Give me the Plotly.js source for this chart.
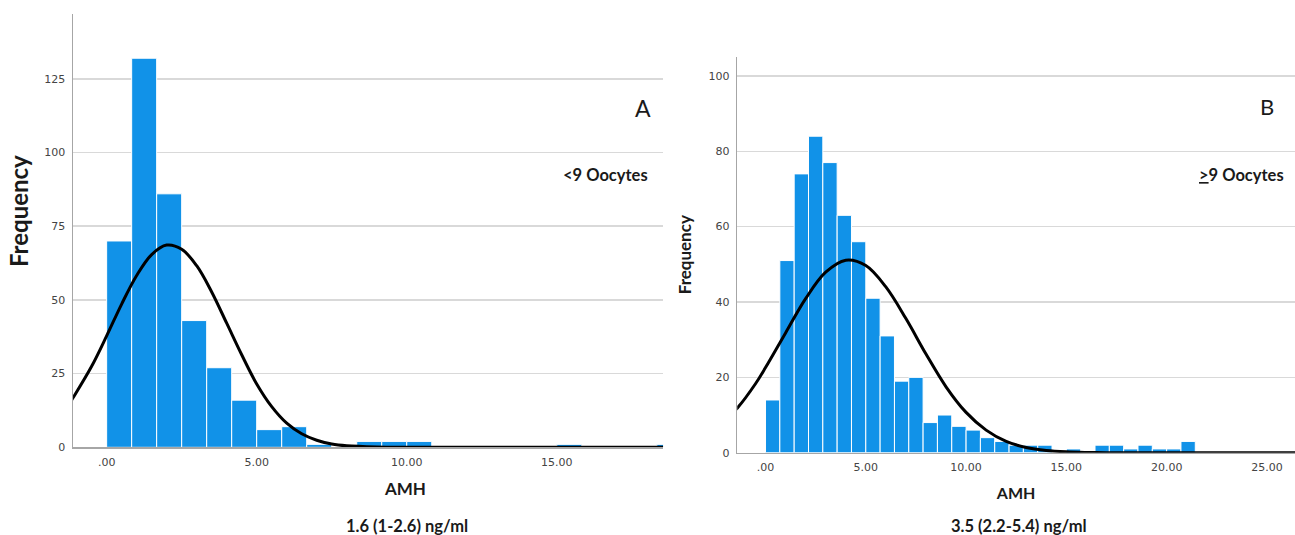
<!DOCTYPE html>
<html><head><meta charset="utf-8">
<script src="https://cdn.plot.ly/plotly-3.0.1.min.js"></script>
<style>html,body{margin:0;padding:0;background:#fff}</style>
</head><body>
<div id="chart" style="width:1295px;height:535px"></div>
<script>
// ---- Panel A (<9 oocytes) ----
const binWidthA = 5 / 6;
const countsA = [70,132,86,43,27,16,6,7,1,0,2,2,2,0,0,0,0,0,1,0,0,0,1];
const curveAx = [-1.2,-1.12,-0.5,0,0.5,1,1.5,2,2.5,3,3.5,4,4.5,5,5.5,6,6.5,7,7.5,8,9,10,12,15,18.6];
const curveAy = [15.5,16.8,27.5,37.8,48.6,58.3,65.4,68.6,67.2,61.6,52.7,42.1,31.4,21.5,13.8,8.2,4.6,2.4,1.1,0.5,0.1,0.02,0,0,0];
const xTickValsA = [0,5,10,15];
const xTickTextA = [".00","5.00","10.00","15.00"];
const yTickValsA = [0,25,50,75,100,125];

// ---- Panel B (>=9 oocytes) ----
const binWidthB = 5 / 7;
const countsB = [14,51,74,84,77,63,56,41,31,19,20,8,10,7,6,4,3,2,2,2,0,1,0,2,2,1,2,1,1,3];
const curveBx = [-1.5,-1.4,-0.5,0,1,2,3,4,5,6,7,8,9,10,11,12,13,14,15,16,17,18,20,26.5];
const curveBy = [11.4,11.9,18.3,22.6,31.8,40.9,47.9,51.1,49.7,44.0,35.6,26.2,17.5,10.7,6.0,3.0,1.4,0.6,0.23,0.08,0.02,0,0,0];
const xTickValsB = [0,5,10,15,20,25];
const xTickTextB = [".00","5.00","10.00","15.00","20.00","25.00"];
const yTickValsB = [0,20,40,60,80,100];

const barColor = '#1192e8';
const leftEdges = (counts, w) => counts.map((_, i) => i * w);

const traces = [
  {type:'bar', x:leftEdges(countsA, binWidthA), y:countsA, width:binWidthA, offset:0,
   marker:{color:barColor, line:{color:'#ffffff', width:1}}, xaxis:'x', yaxis:'y', hoverinfo:'skip'},
  {type:'scatter', mode:'lines', x:curveAx, y:curveAy, line:{color:'#000', width:3, shape:'spline'},
   xaxis:'x', yaxis:'y', hoverinfo:'skip'},
  {type:'bar', x:leftEdges(countsB, binWidthB), y:countsB, width:binWidthB, offset:0,
   marker:{color:barColor, line:{color:'#ffffff', width:1}}, xaxis:'x2', yaxis:'y2', hoverinfo:'skip'},
  {type:'scatter', mode:'lines', x:curveBx, y:curveBy, line:{color:'#000', width:3, shape:'spline'},
   xaxis:'x2', yaxis:'y2', hoverinfo:'skip'}
];

const tickFont = {family:'DejaVu Sans', size:11, color:'#444'};
const titleFont = (s) => ({family:'Lato', size:s, color:'#1a1a1a'});
const axLine = {showline:true, linecolor:'#a6a6a6', linewidth:1.5, zeroline:false, ticks:'', automargin:false};

const layout = {
  width:1295, height:535, margin:{l:0, r:0, t:0, b:0},
  paper_bgcolor:'#fff', plot_bgcolor:'#fff', showlegend:false, bargap:0,
  xaxis:Object.assign({}, axLine, {domain:[0.0564,0.5120], range:[-1.12,18.54], anchor:'y',
    tickmode:'array', tickvals:xTickValsA, ticktext:xTickTextA, showgrid:false, tickfont:tickFont,
    ticklabelstandoff:4}),
  yaxis:Object.assign({}, axLine, {domain:[0.1639,0.9738], range:[0,147], anchor:'x',
    tickmode:'array', tickvals:yTickValsA, showgrid:true, gridcolor:'#d9d9d9', gridwidth:1.5,
    tickfont:tickFont, ticklabelstandoff:4}),
  xaxis2:Object.assign({}, axLine, {domain:[0.5693,1.0], range:[-1.41,26.4], anchor:'y2',
    tickmode:'array', tickvals:xTickValsB, ticktext:xTickTextB, showgrid:false, tickfont:tickFont,
    ticklabelstandoff:4,
    title:{text:'<b>AMH</b>', font:titleFont(16), standoff:14}}),
  yaxis2:Object.assign({}, axLine, {domain:[0.1538,0.894], range:[0,105.1], anchor:'x2',
    tickmode:'array', tickvals:yTickValsB, showgrid:true, gridcolor:'#d9d9d9', gridwidth:1.5,
    tickfont:tickFont, ticklabelstandoff:4,
    title:{text:'<b>Frequency</b>', font:titleFont(17), standoff:12}}),
  annotations:[
    {text:'<b>Frequency</b>', x:0.0139, y:0.6056, xref:'paper', yref:'paper', xanchor:'center', yanchor:'middle',
     textangle:-90, showarrow:false, font:titleFont(24)},
    {text:'<b>AMH</b>', x:0.3127, y:0.086, xref:'paper', yref:'paper', xanchor:'center', yanchor:'middle',
     showarrow:false, font:titleFont(17)},
    {text:'A', x:0.4965, y:0.798, xref:'paper', yref:'paper', xanchor:'center', yanchor:'middle',
     showarrow:false, font:titleFont(23)},
    {text:'<b>&lt;9 Oocytes</b>', x:0.5019, y:0.673, xref:'paper', yref:'paper', xanchor:'right', yanchor:'middle',
     showarrow:false, font:titleFont(16.5)},
    {text:'B', x:0.9781, y:0.800, xref:'paper', yref:'paper', xanchor:'center', yanchor:'middle',
     showarrow:false, font:titleFont(22)},
    {text:'<b><span style="text-decoration:underline">&gt;</span>9 Oocytes</b>', x:0.993, y:0.673, xref:'paper', yref:'paper',
     xanchor:'right', yanchor:'middle', showarrow:false, font:titleFont(16.5)},
    {text:'<b>1.6 (1-2.6) ng/ml</b>', x:0.3139, y:0.0168, xref:'paper', yref:'paper', xanchor:'center', yanchor:'middle',
     showarrow:false, font:titleFont(16.5)},
    {text:'<b>3.5 (2.2-5.4) ng/ml</b>', x:0.7869, y:0.0168, xref:'paper', yref:'paper', xanchor:'center', yanchor:'middle',
     showarrow:false, font:titleFont(16.5)}
  ]
};

Plotly.newPlot('chart', traces, layout, {displayModeBar:false, staticPlot:true});
</script>
</body></html>
